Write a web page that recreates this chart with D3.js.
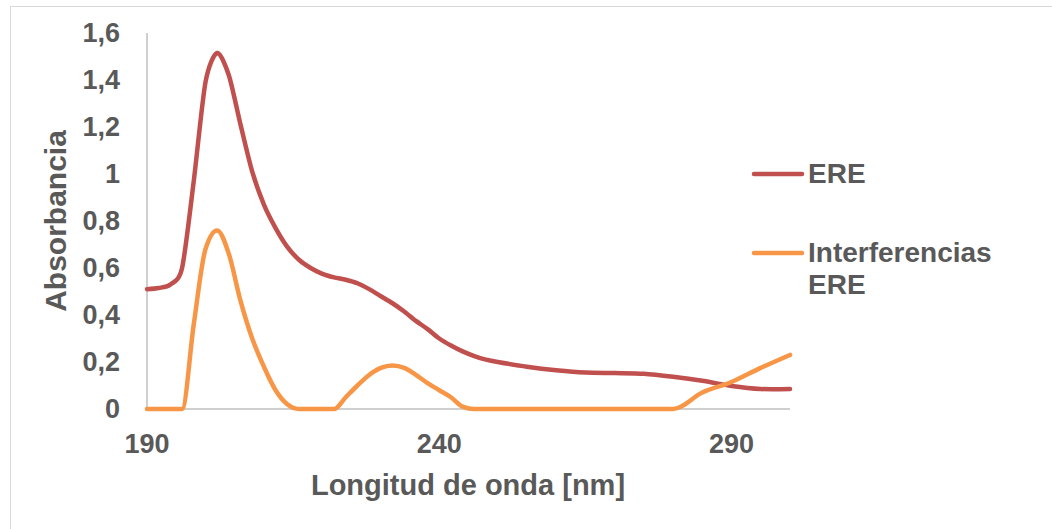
<!DOCTYPE html>
<html>
<head>
<meta charset="utf-8">
<script src="https://cdn.jsdelivr.net/npm/d3@7"></script>
<style>
  body { margin: 0; background: #fff; }
  text { font-family: "Liberation Sans", Arial, sans-serif; font-weight: bold; fill: #595959; }
</style>
</head>
<body>
<script>
// wavelengths (nm) and absorbance
var wavelengths = [190, 192, 194, 196, 198, 200, 202, 204, 206, 208, 210, 212, 214, 216, 218,
  220, 222, 224, 226, 228, 230, 232, 234, 236, 238, 240, 242, 244, 246, 248, 250,
  255, 260, 265, 270, 275, 280, 285, 290, 295, 300];

var ere = [0.51, 0.515, 0.53, 0.60, 0.97, 1.39, 1.515, 1.42, 1.21, 1.01, 0.87, 0.77, 0.69, 0.635, 0.60,
  0.575, 0.56, 0.55, 0.535, 0.51, 0.48, 0.45, 0.415, 0.375, 0.34, 0.30, 0.27, 0.245, 0.225, 0.21, 0.20,
  0.18, 0.165, 0.155, 0.153, 0.15, 0.137, 0.12, 0.098, 0.085, 0.085];

var interferencias = [0, 0, 0, 0, 0.36, 0.68, 0.76, 0.66, 0.46, 0.30, 0.18, 0.08, 0.02, 0, 0,
  0, 0, 0.05, 0.10, 0.145, 0.175, 0.185, 0.175, 0.145, 0.11, 0.08, 0.05, 0.01, 0, 0, 0,
  0, 0, 0, 0, 0, 0, 0.07, 0.115, 0.175, 0.23];

var seriesNames = ["ERE", "Interferencias ERE"];
var seriesColors = ["#C0504D", "#F79646"];
var yTicks = [0, 0.2, 0.4, 0.6, 0.8, 1, 1.2, 1.4, 1.6];
var xTicks = [190, 240, 290];

var width = 1052, height = 529;

var svg = d3.select("body").append("svg")
  .attr("width", width)
  .attr("height", height);

// chart frame
svg.append("rect")
  .attr("x", 10.5).attr("y", 6.5)
  .attr("width", 1080).attr("height", 560)
  .attr("fill", "#fff")
  .attr("stroke", "#D9D9D9");

var x = d3.scaleLinear().domain([190, 300]).range([147, 790]);
var y = d3.scaleLinear().domain([0, 1.6]).range([409, 33]);

var fmt = function(d) { return String(d).replace(".", ","); };

// axes lines
svg.append("line")
  .attr("x1", x(190)).attr("x2", x(190))
  .attr("y1", y(1.6)).attr("y2", y(0))
  .attr("stroke", "#BFBFBF").attr("stroke-width", 1.5);

svg.append("line")
  .attr("x1", x(190)).attr("x2", x(300))
  .attr("y1", y(0)).attr("y2", y(0))
  .attr("stroke", "#BFBFBF").attr("stroke-width", 1.5);

// tick labels
svg.selectAll(".ylab")
  .data(yTicks)
  .enter()
  .append("text")
  .attr("class", "ylab")
  .attr("x", 120)
  .attr("y", function(d) { return y(d) + 9; })
  .attr("text-anchor", "end")
  .style("font-size", "27px")
  .text(fmt);

svg.selectAll(".xlab")
  .data(xTicks)
  .enter()
  .append("text")
  .attr("class", "xlab")
  .attr("x", function(d) { return x(d); })
  .attr("y", 453)
  .attr("text-anchor", "middle")
  .style("font-size", "27px")
  .text(fmt);

// axis titles
svg.append("text")
  .attr("x", 468)
  .attr("y", 495)
  .attr("text-anchor", "middle")
  .style("font-size", "29px")
  .text("Longitud de onda [nm]");

svg.append("text")
  .attr("transform", "translate(66," + y(0.8) + ") rotate(-90)")
  .attr("text-anchor", "middle")
  .style("font-size", "30px")
  .text("Absorbancia");

// lines: ERE smoothed freely, interferences kept at zero where flat
var curves = [d3.curveCardinal.tension(0.2), d3.curveMonotoneX];
var allSeries = [ere, interferencias];

svg.selectAll(".series")
  .data(allSeries)
  .enter()
  .append("path")
  .attr("class", "series")
  .attr("fill", "none")
  .attr("stroke", function(d, i) { return seriesColors[i]; })
  .attr("stroke-width", 4.5)
  .attr("stroke-linejoin", "round")
  .attr("stroke-linecap", "round")
  .attr("d", function(vals, i) {
    var line = d3.line()
      .x(function(d) { return x(d[0]); })
      .y(function(d) { return y(d[1]); })
      .curve(curves[i]);
    return line(wavelengths.map(function(w, j) { return [w, vals[j]]; }));
  });

// legend
var legendY = [174, 253];
var legend = svg.selectAll(".legend")
  .data(seriesNames)
  .enter()
  .append("g")
  .attr("class", "legend")
  .attr("transform", function(d, i) { return "translate(0," + legendY[i] + ")"; });

legend.append("line")
  .attr("x1", 754).attr("x2", 802)
  .attr("y1", 0).attr("y2", 0)
  .attr("stroke", function(d, i) { return seriesColors[i]; })
  .attr("stroke-width", 4.5)
  .attr("stroke-linecap", "round");

legend.append("text")
  .attr("x", 808)
  .attr("y", 9)
  .style("font-size", "28px")
  .each(function(d) {
    var words = d.split(" ");
    var t = d3.select(this);
    words.forEach(function(w, k) {
      t.append("tspan")
        .attr("x", 808)
        .attr("dy", k === 0 ? 0 : 32)
        .text(w);
    });
  });
</script>
</body>
</html>
